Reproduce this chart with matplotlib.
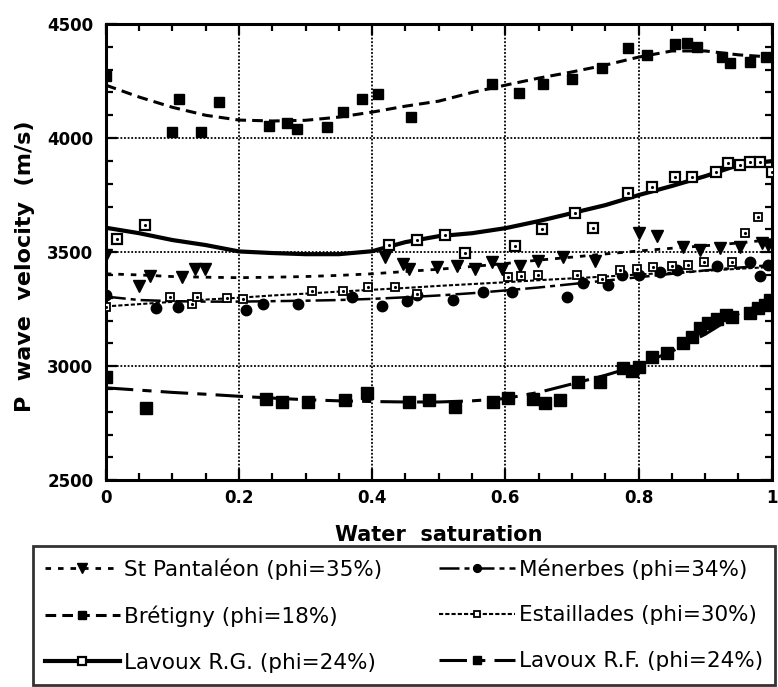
import matplotlib
matplotlib.use("Agg")
import matplotlib.pyplot as plt
from matplotlib.ticker import MultipleLocator

plt.rcParams['font.family'] = ['DejaVu Sans']

# measured points: water saturation / P wave velocity (m/s)
sat_stp = [0.0, 0.05, 0.066, 0.114, 0.134, 0.149, 0.419, 0.446, 0.456, 0.497, 0.527, 0.554, 0.58,
           0.595, 0.622, 0.649, 0.686, 0.734, 0.80, 0.827, 0.866, 0.892, 0.922, 0.952, 0.985, 0.994]
vp_stp = [3487, 3351, 3395, 3390, 3425, 3425, 3478, 3447, 3425, 3434, 3439, 3425, 3456,
          3425, 3439, 3461, 3478, 3461, 3583, 3570, 3522, 3509, 3517, 3522, 3539, 3531]

sat_bret = [0.0, 0.10, 0.11, 0.143, 0.17, 0.245, 0.272, 0.287, 0.332, 0.356, 0.385, 0.408, 0.459,
            0.58, 0.62, 0.656, 0.70, 0.745, 0.784, 0.812, 0.854, 0.872, 0.887, 0.925, 0.938, 0.967, 0.992]
vp_bret = [4272, 4026, 4171, 4026, 4158, 4053, 4065, 4039, 4048, 4114, 4171, 4193, 4092,
           4237, 4197, 4237, 4259, 4307, 4394, 4364, 4412, 4417, 4400, 4355, 4329, 4333, 4355]

sat_lrg = [0.017, 0.059, 0.425, 0.467, 0.509, 0.539, 0.614, 0.655, 0.704, 0.731, 0.784, 0.82,
           0.854, 0.88, 0.916, 0.934, 0.952, 0.967, 0.982, 1.0]
vp_lrg = [3557, 3618, 3531, 3553, 3575, 3496, 3526, 3601, 3671, 3605, 3759, 3785,
          3829, 3829, 3851, 3890, 3882, 3895, 3895, 3851]

sat_men = [0.0, 0.076, 0.108, 0.211, 0.236, 0.288, 0.369, 0.414, 0.452, 0.468, 0.521, 0.566,
           0.61, 0.692, 0.716, 0.754, 0.775, 0.80, 0.832, 0.857, 0.917, 0.967, 0.982, 0.994]
vp_men = [3311, 3254, 3259, 3246, 3272, 3272, 3303, 3263, 3285, 3311, 3290, 3325,
          3325, 3303, 3364, 3355, 3399, 3399, 3412, 3421, 3439, 3456, 3395, 3443]

sat_est = [0.0, 0.096, 0.129, 0.137, 0.182, 0.206, 0.309, 0.356, 0.393, 0.434, 0.467, 0.604,
           0.624, 0.649, 0.707, 0.745, 0.772, 0.797, 0.822, 0.85, 0.874, 0.898, 0.94, 0.96, 0.98]
vp_est = [3259, 3303, 3272, 3303, 3298, 3294, 3329, 3329, 3346, 3346, 3316, 3390,
          3395, 3399, 3399, 3382, 3421, 3425, 3434, 3439, 3443, 3456, 3456, 3583, 3654]

sat_lrf = [0.0, 0.061, 0.24, 0.264, 0.304, 0.359, 0.392, 0.456, 0.486, 0.524, 0.581, 0.604,
           0.641, 0.659, 0.682, 0.709, 0.742, 0.776, 0.79, 0.80, 0.82, 0.842, 0.866, 0.88,
           0.892, 0.904, 0.917, 0.932, 0.94, 0.967, 0.979, 0.99, 0.997, 1.0]
vp_lrf = [2952, 2816, 2855, 2842, 2842, 2851, 2882, 2842, 2851, 2820, 2842, 2860,
          2855, 2838, 2851, 2930, 2930, 2991, 2978, 2996, 3040, 3057, 3101, 3127,
          3167, 3189, 3206, 3224, 3215, 3232, 3254, 3267, 3290, 3276]

# fitted trend curves, sampled every 0.05 of saturation
sat_fit = [0.0, 0.05, 0.1, 0.15, 0.2, 0.25, 0.3, 0.35, 0.4, 0.45, 0.5,
           0.55, 0.6, 0.65, 0.7, 0.75, 0.8, 0.85, 0.9, 0.95, 1.0]
fit_stp = [3405, 3400, 3393, 3390, 3388, 3390, 3393, 3398, 3405, 3415, 3425,
           3437, 3450, 3465, 3478, 3492, 3505, 3517, 3528, 3540, 3555]
fit_bret = [4232, 4180, 4135, 4100, 4079, 4075, 4078, 4092, 4114, 4140, 4162,
            4200, 4232, 4263, 4290, 4320, 4355, 4382, 4382, 4365, 4355]
fit_lrg = [3607, 3583, 3553, 3531, 3503, 3496, 3491, 3491, 3504, 3544, 3570,
           3583, 3605, 3636, 3671, 3706, 3750, 3790, 3833, 3882, 3899]
fit_men = [3305, 3290, 3285, 3283, 3283, 3285, 3287, 3290, 3295, 3302, 3310,
           3320, 3332, 3345, 3360, 3375, 3390, 3405, 3420, 3432, 3443]
fit_est = [3262, 3272, 3282, 3292, 3300, 3310, 3318, 3327, 3335, 3343, 3352,
           3360, 3368, 3377, 3385, 3393, 3402, 3410, 3418, 3427, 3435]
fit_lrf = [2905, 2895, 2885, 2877, 2868, 2860, 2853, 2848, 2845, 2843, 2843,
           2848, 2858, 2885, 2922, 2960, 3004, 3065, 3140, 3230, 3290]

labels = ['St Pantaléon (phi=35%)', 'Brétigny (phi=18%)', 'Lavoux R.G. (phi=24%)',
          'Ménerbes (phi=34%)', 'Estaillades (phi=30%)', 'Lavoux R.F. (phi=24%)']

fig = plt.figure(figsize=(7.78, 6.87), dpi=100)
ax = fig.add_axes([0.136, 0.301, 0.856, 0.664])

# (x, y, fit curve, line style, line width, marker style, hollow marker with centre dot)
series = [
    (sat_stp, vp_stp, fit_stp, (0, (2, 2.5)), 2.0, dict(marker='v', ms=9, mfc='k'), False),
    (sat_bret, vp_bret, fit_bret, (0, (3.5, 2)), 2.2, dict(marker='s', ms=7.5, mfc='k'), False),
    (sat_lrg, vp_lrg, fit_lrg, '-', 3.0, dict(marker='s', ms=7, mfc='white', mew=1.6), True),
    (sat_men, vp_men, fit_men, (0, (8, 2, 2, 2)), 1.8, dict(marker='o', ms=7.5, mfc='k'), False),
    (sat_est, vp_est, fit_est, (0, (2, 1)), 1.5, dict(marker='s', ms=6, mfc='white', mew=1.3), True),
    (sat_lrf, vp_lrf, fit_lrf, (0, (9, 3, 3, 3)), 2.2, dict(marker='s', ms=8, mfc='k'), False),
]

handles = []
for (s, v, f, ls, lw, mk, dot), lab in zip(series, labels):
    ax.plot(sat_fit, f, ls=ls, lw=lw, color='k', zorder=2)
    ax.plot(s, v, ls='none', color='k', mec='k', zorder=3, **mk)
    if dot:
        ax.plot(s, v, ls='none', marker='.', ms=2.5, color='k', zorder=4)
    h, = ax.plot([], [], ls=ls, lw=lw, color='k', mec='k', markevery=[1],
                 **{k: (val * 0.75 if k == 'ms' else val) for k, val in mk.items()})
    handles.append(h)

ax.set_xlim(0, 1)
ax.set_ylim(2500, 4500)
ax.xaxis.set_major_locator(MultipleLocator(0.2))
ax.xaxis.set_minor_locator(MultipleLocator(0.05))
ax.yaxis.set_major_locator(MultipleLocator(500))
ax.yaxis.set_minor_locator(MultipleLocator(100))
ax.xaxis.set_major_formatter(plt.FuncFormatter(lambda x, p: f'{x:g}'))
ax.tick_params(which='both', direction='in', top=True, right=True, width=1.6)
ax.tick_params(which='major', length=8, labelsize=12)
ax.tick_params(axis='y', which='major', pad=9)
ax.tick_params(axis='x', which='major', pad=6)
ax.tick_params(which='minor', length=5)
for lab in ax.get_xticklabels() + ax.get_yticklabels():
    lab.set_fontweight('bold')
for sp in ax.spines.values():
    sp.set_linewidth(2.2)

ax.grid(True, which='major', ls=(0, (1, 1)), lw=1.3, color='k')

xl = ax.set_xlabel('Water  saturation', fontsize=15, fontweight='bold')
xl.set_verticalalignment('baseline')
ax.xaxis.set_label_coords(0.5, -0.134)
ax.set_ylabel('P  wave  velocity  (m/s)', fontsize=16, fontweight='bold')
ax.yaxis.set_label_coords(-0.107, 0.469)

leg = fig.legend(handles, labels, ncol=2, loc='upper left',
                 bbox_to_anchor=(0.042, 0.006, 0.954, 0.199), mode='expand',
                 fontsize=15.5, handlelength=3.5, handletextpad=0.2,
                 borderaxespad=0, frameon=True, fancybox=False, edgecolor='k',
                 labelspacing=1.2, borderpad=0.55)
leg.get_frame().set_linewidth(2.0)

fig.savefig('out.png', dpi=100)
